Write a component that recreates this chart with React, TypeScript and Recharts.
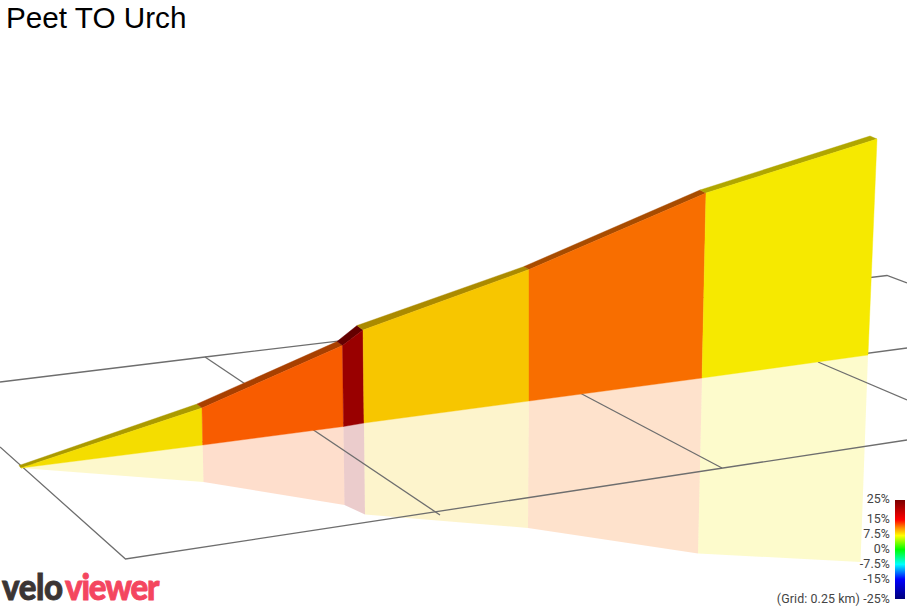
import React from "react";
import { ScatterChart, Scatter, XAxis, YAxis } from "recharts";

type P = { x: number; y: number };
const pts = (a: number[][]): P[] => a.map(([x, y]) => ({ x, y }));

const title = "Peet TO Urch";
const scaleLabels = ["25%", "15%", "7.5%", "0%", "-7.5%", "-15%", "(Grid: 0.25 km) -25%"];
const scaleStops = ["#7a0000 0%", "#ff0000 20%", "#ff8c00 28%", "#ffff00 36%", "#00ff00 50%", "#00ffff 65%", "#0000ff 80%", "#00007a 100%"];

const faceColors = ["#f4dd00", "#f85c00", "#990000", "#f7c600", "#f86e00", "#f6e900"];
const stripColors = ["#ab9a00", "#a84000", "#640000", "#ab8a00", "#a84c00", "#b0a600"];

const wallTop = [[21, 468], [202, 408], [342.5, 345.5], [363, 330], [529, 269.5], [706, 193], [877, 139]];
const wallBack = [[19, 465.5], [197, 404], [337, 341.5], [357, 325.5], [524, 266.5], [700, 190], [870, 136]];
const wallBase = [[21, 468], [202.7, 445], [343.5, 426.5], [364, 423], [529, 401], [702, 378], [868, 355]];
const shadowBase = [[21, 468], [203.5, 482], [344.5, 505], [365, 514.5], [528, 528], [698, 553.5], [860.5, 562]];

const gridLines = [
  [[0, 447], [125.5, 559], [907, 440]],
  [[0, 382], [205, 357], [887, 275.5], [907, 283]],
  [[205, 357], [440, 515]],
  [[580, 393], [722, 468]],
  [[818, 362], [907, 400]],
  [[21, 466], [907, 348]],
];

const quad = (a: number[][], b: number[][], i: number) => pts([a[i], a[i + 1], b[i + 1], b[i]]);

const Poly = (fill: string, opacity: number) => (p: any) => (
  <polygon
    points={(p.points as P[]).map((q) => `${q.x},${q.y}`).join(" ")}
    fill={fill}
    fillOpacity={opacity}
    stroke={opacity < 1 ? "none" : fill}
    strokeWidth={0.4}
  />
);
const Path = (p: any) => (
  <polyline
    points={(p.points as P[]).map((q) => `${q.x},${q.y}`).join(" ")}
    fill="none"
    stroke="#6e6e6e"
    strokeWidth={1.3}
  />
);
const NoDot = () => <g />;

const labelTops = [499, 519, 534, 549, 564, 579, 599];

export default function App() {
  const segs = faceColors.map((_, i) => i);
  const logo = {
    position: "absolute",
    font: "900 33px Lato, sans-serif",
    lineHeight: "22px",
    height: 22,
    top: 575.5,
    whiteSpace: "nowrap",
    WebkitTextStroke: "0.8px currentColor",
    transform: "scaleY(1.08)",
    transformOrigin: "0 23.8px",
  } as React.CSSProperties;
  return (
    <div style={{ position: "absolute", left: 0, top: 0, width: 907, height: 607, overflow: "hidden", background: "#fff" }}>
      <ScatterChart width={907} height={607} margin={{ top: 0, right: 0, bottom: 0, left: 0 }}>
        <XAxis type="number" dataKey="x" domain={[0, 907]} hide allowDataOverflow />
        <YAxis type="number" dataKey="y" domain={[0, 607]} reversed hide allowDataOverflow />
        {segs.map((i) => (
          <Scatter key={`s${i}`} data={quad(wallBase, shadowBase, i)} isAnimationActive={false} shape={NoDot} line={Poly(faceColors[i], 0.2)} />
        ))}
        {gridLines.map((g, i) => (
          <Scatter key={`g${i}`} data={pts(g)} isAnimationActive={false} shape={NoDot} line={Path} />
        ))}
        {segs.map((i) => (
          <Scatter key={`t${i}`} data={quad(wallBack, wallTop, i)} isAnimationActive={false} shape={NoDot} line={Poly(stripColors[i], 1)} />
        ))}
        {segs.map((i) => (
          <Scatter key={`f${i}`} data={quad(wallTop, wallBase, i)} isAnimationActive={false} shape={NoDot} line={Poly(faceColors[i], 1)} />
        ))}
      </ScatterChart>

      <div style={{ position: "absolute", left: 6, top: 1, font: "29.7px 'Liberation Sans', Arial, sans-serif", color: "#000", whiteSpace: "nowrap", lineHeight: "34px" }}>
        {title}
      </div>

      <div style={{ position: "absolute", left: 895, top: 500, width: 10, height: 99, background: `linear-gradient(to bottom, ${scaleStops.join(", ")})` }} />
      {scaleLabels.map((t, i) => (
        <div key={t} style={{ position: "absolute", right: 17, top: labelTops[i] - 7, font: "12.4px Roboto, sans-serif", letterSpacing: "0.1px", color: "#444", lineHeight: "14px", whiteSpace: "nowrap" }}>
          {t}
        </div>
      ))}

      <div style={{ ...logo, left: 2, letterSpacing: "-0.4px", color: "#3b3534" }}>velo</div>
      <div style={{ ...logo, left: 65, letterSpacing: "-1.15px", color: "#f4465f" }}>viewer</div>
    </div>
  );
}
